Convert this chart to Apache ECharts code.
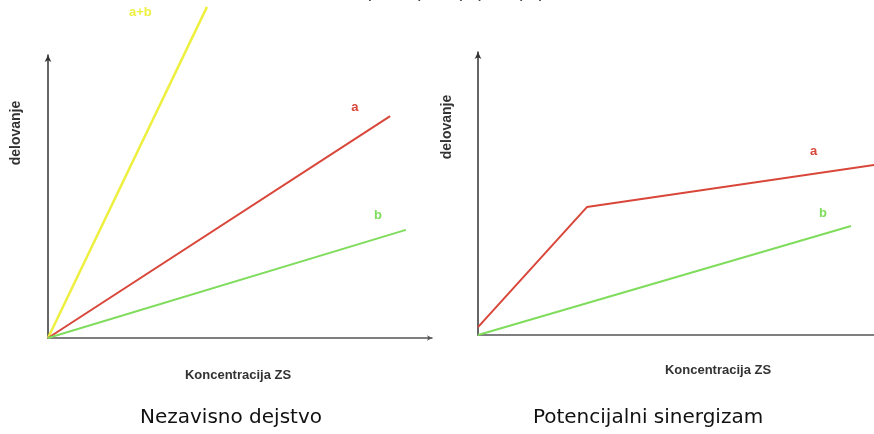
<!DOCTYPE html>
<html>
<head>
<meta charset="utf-8">
<script src="https://cdn.jsdelivr.net/npm/echarts@6/dist/echarts.min.js"></script>
<style>html,body{margin:0;padding:0;background:#fff}#c{width:874px;height:434px}</style>
</head>
<body>
<div id="c"></div>
<script>
// Left panel: independent action (x = concentration, y = effect)
var leftA = [[0, 0], [89.1, 78.4]];
var leftB = [[0, 0], [93.2, 38.2]];
var leftAB = [[0, 0], [41.4, 117]];
// Right panel: potential synergism
var rightA = [[0, 2.8], [27.5, 45.2], [100, 60.1]];
var rightB = [[0, 0], [94.2, 38.5]];
var seriesNames = ['a', 'b', 'a+b'];
var yAxisName = 'delovanje';
var xAxisName = 'Koncentracija ZS';
var captions = ['Nezavisno dejstvo', 'Potencijalni sinergizam'];
var topTitle = '(a+b) > (a) + (b)';

var chart = echarts.init(document.getElementById('c'));
var axisCol = '#555';
function xAx(i) {
  return { gridIndex: i, type: 'value', min: 0, max: 100,
    axisLine: { show: true, lineStyle: { color: axisCol, width: 1.5 }, symbol: ['none', i === 0 ? 'arrow' : 'none'], symbolSize: [4, 5] },
    axisTick: { show: false }, axisLabel: { show: false }, splitLine: { show: false } };
}
function yAx(i) {
  return { gridIndex: i, type: 'value', min: 0, max: 100,
    axisLine: { show: true, lineStyle: { color: '#333', width: 1.5 }, symbol: ['none', 'arrow'], symbolSize: [5, 7] },
    axisTick: { show: false }, axisLabel: { show: false }, splitLine: { show: false } };
}
function endLbl(name, color, off) {
  return { show: true, formatter: name, offset: off, distance: 0, color: color, fontFamily: 'Liberation Sans', fontWeight: 'bold', fontSize: 13 };
}
var red = '#d8473a', green = '#7fdc5c', yellow = '#eef040';
function ln(xi, data, color, w, name, off, clip) {
  return { type: 'line', xAxisIndex: xi, yAxisIndex: xi, clip: !!clip ? false : true, symbol: 'none', showSymbol: false,
    lineStyle: { color: color, width: w }, endLabel: endLbl(name, color, off), data: data };
}
chart.setOption({
  animation: false,
  grid: [
    { left: 48, top: 55, width: 384, height: 283 },
    { left: 478, top: 52, right: 0, height: 283 }
  ],
  xAxis: [xAx(0), xAx(1)],
  yAxis: [yAx(0), yAx(1)],
  series: [
    ln(0, leftAB, yellow, 2.5, seriesNames[2], [-78, 6], true),
    ln(0, leftA, red, 2, seriesNames[0], [-39, -9]),
    ln(0, leftB, green, 2, seriesNames[1], [-32, -14]),
    ln(1, rightA, red, 2, seriesNames[0], [-64, -13], true),
    ln(1, rightB, green, 2, seriesNames[1], [-32, -13])
  ],
  graphic: [
    { type: 'text', x: 455, y: -18, style: { text: topTitle, fontFamily: 'DejaVu Sans', fontSize: 21, fill: '#444', align: 'center' } },
    { type: 'text', x: 16, y: 133, rotation: Math.PI / 2, style: { text: yAxisName, fontFamily: 'Liberation Sans', fontWeight: 'bold', fontSize: 14, fill: '#333', align: 'center', verticalAlign: 'middle' } },
    { type: 'text', x: 447, y: 127, rotation: Math.PI / 2, style: { text: yAxisName, fontFamily: 'Liberation Sans', fontWeight: 'bold', fontSize: 14, fill: '#333', align: 'center', verticalAlign: 'middle' } },
    { type: 'text', x: 238, y: 375, style: { text: xAxisName, fontFamily: 'Liberation Sans', fontWeight: 'bold', fontSize: 13, fill: '#333', align: 'center', verticalAlign: 'middle' } },
    { type: 'text', x: 718, y: 370, style: { text: xAxisName, fontFamily: 'Liberation Sans', fontWeight: 'bold', fontSize: 13, fill: '#333', align: 'center', verticalAlign: 'middle' } },
    { type: 'text', x: 231, y: 418, style: { text: captions[0], fontFamily: 'DejaVu Sans', fontSize: 20, fill: '#111', align: 'center', verticalAlign: 'middle' } },
    { type: 'text', x: 648, y: 418, style: { text: captions[1], fontFamily: 'DejaVu Sans', fontSize: 20, fill: '#111', align: 'center', verticalAlign: 'middle' } }
  ]
});
</script>
</body>
</html>
